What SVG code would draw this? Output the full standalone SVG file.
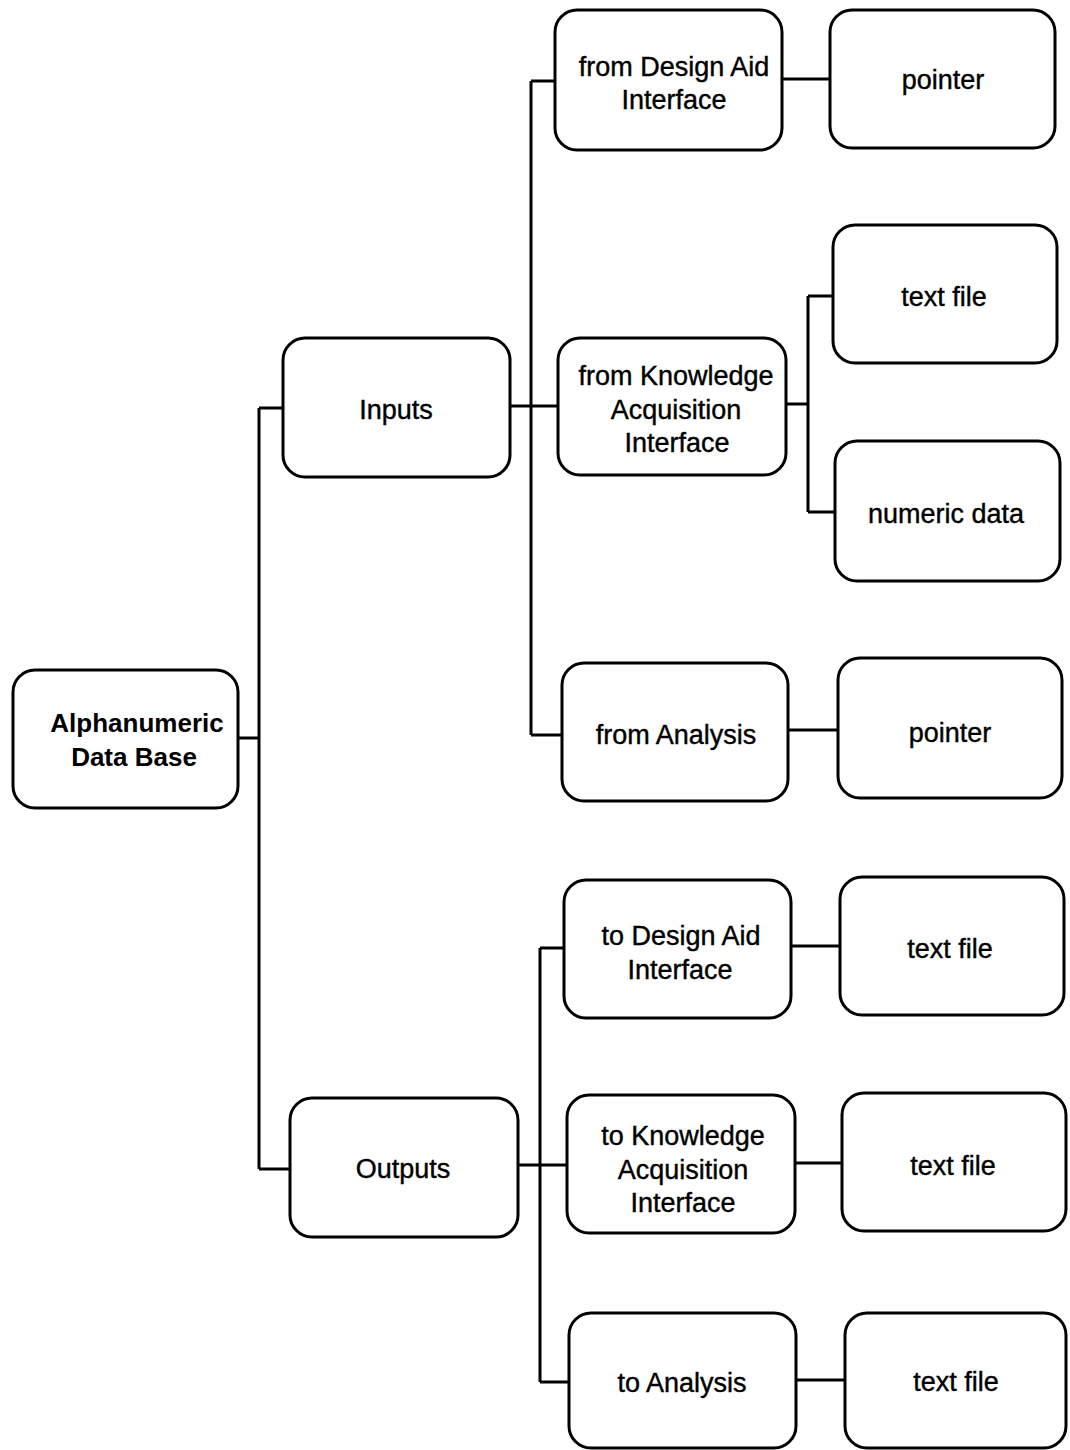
<svg xmlns="http://www.w3.org/2000/svg" width="1070" height="1450" viewBox="0 0 1070 1450">
<style>
.box{fill:#fff;stroke:#000;stroke-width:3}
.t{font-family:"Liberation Sans",Arial,sans-serif;font-size:27px;fill:#000;stroke:#000;stroke-width:0.4;text-anchor:middle}
.b{font-weight:bold;font-size:26px;stroke:none}
.c{fill:none;stroke:#000;stroke-width:3}
</style>
<rect width="1070" height="1450" fill="#fff"/>
<g id="connectors">
<path class="c" d="M238 738H259M259 408V1169M259 408H283M259 1169H290"/>
<path class="c" d="M531 81V735M531 81H555M510 406H558M531 735H562"/>
<path class="c" d="M782 79H830M786 404H808M808 296V512M808 296H833M808 512H835M788 730H838"/>
<path class="c" d="M540 948V1382M540 948H564M518 1165H567M540 1382H569"/>
<path class="c" d="M791 946H840M795 1163H842M796 1380H845"/>
</g>
<g id="root"><rect class="box" x="13" y="670" width="225" height="138" rx="22"/><text class="t b" x="137" y="732">Alphanumeric</text><text class="t b" x="134" y="766">Data Base</text></g>
<g id="inputs"><rect class="box" x="283" y="338" width="227" height="139" rx="22"/><text class="t" x="396" y="419">Inputs</text></g>
<g id="outputs"><rect class="box" x="290" y="1098" width="228" height="139" rx="22"/><text class="t" x="403" y="1178">Outputs</text></g>
<g id="from-design"><rect class="box" x="555" y="10" width="227" height="140" rx="22"/><text class="t" x="674" y="76">from Design Aid</text><text class="t" x="674" y="109">Interface</text></g>
<g id="pointer1"><rect class="box" x="830" y="10" width="225" height="138" rx="22"/><text class="t" x="943" y="89">pointer</text></g>
<g id="from-knowledge"><rect class="box" x="558" y="338" width="228" height="137" rx="22"/><text class="t" x="676" y="385">from Knowledge</text><text class="t" x="676" y="419">Acquisition</text><text class="t" x="677" y="452">Interface</text></g>
<g id="textfile1"><rect class="box" x="833" y="225" width="224" height="138" rx="22"/><text class="t" x="944" y="306">text file</text></g>
<g id="numeric"><rect class="box" x="835" y="441" width="225" height="140" rx="22"/><text class="t" x="946" y="523">numeric data</text></g>
<g id="from-analysis"><rect class="box" x="562" y="663" width="226" height="138" rx="22"/><text class="t" x="676" y="744">from Analysis</text></g>
<g id="pointer2"><rect class="box" x="838" y="658" width="224" height="140" rx="22"/><text class="t" x="950" y="742">pointer</text></g>
<g id="to-design"><rect class="box" x="564" y="880" width="227" height="138" rx="22"/><text class="t" x="681" y="945">to Design Aid</text><text class="t" x="680" y="979">Interface</text></g>
<g id="textfile2"><rect class="box" x="840" y="877" width="224" height="138" rx="22"/><text class="t" x="950" y="958">text file</text></g>
<g id="to-knowledge"><rect class="box" x="567" y="1095" width="228" height="138" rx="22"/><text class="t" x="683" y="1145">to Knowledge</text><text class="t" x="683" y="1179">Acquisition</text><text class="t" x="683" y="1212">Interface</text></g>
<g id="textfile3"><rect class="box" x="842" y="1093" width="224" height="138" rx="22"/><text class="t" x="953" y="1175">text file</text></g>
<g id="to-analysis"><rect class="box" x="569" y="1313" width="227" height="135" rx="22"/><text class="t" x="682" y="1392">to Analysis</text></g>
<g id="textfile4"><rect class="box" x="845" y="1313" width="221" height="135" rx="22"/><text class="t" x="956" y="1391">text file</text></g>
</svg>
